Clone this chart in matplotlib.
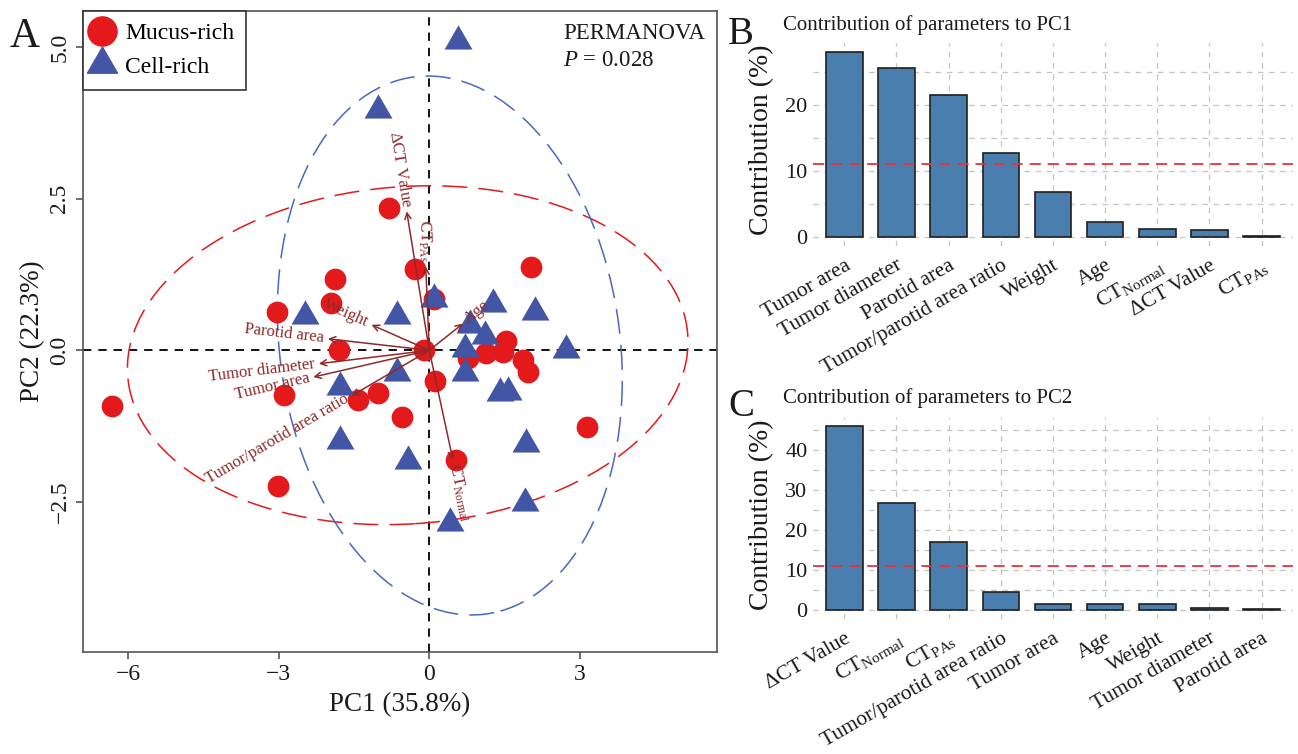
import numpy as np
import matplotlib
matplotlib.use('Agg')
import matplotlib.pyplot as plt
from matplotlib.lines import Line2D
from matplotlib.patches import Ellipse

plt.rcParams['font.family'] = ['Liberation Serif', 'DejaVu Serif']
plt.rcParams['mathtext.fontset'] = 'custom'
plt.rcParams['mathtext.rm'] = 'Liberation Serif'
plt.rcParams['mathtext.it'] = 'Liberation Serif:italic'
plt.rcParams['lines.scale_dashes'] = False

# ---------------------------------------------------------------- data
mucus_pc1 = [-6.32, -3.04, -2.90, -3.01, -1.88, -1.95, -1.80, -1.42, -1.02, -0.54,
             -0.80, -0.29, -0.11, 0.10, 0.12, 0.54, 0.77, 1.14, 1.47, 1.52,
             1.86, 1.97, 2.02, 3.15]
mucus_pc2 = [-0.91, 0.64, -0.73, -2.24, 1.18, 0.78, 0.00, -0.81, -0.70, -1.10,
             2.34, 1.34, 0.01, 0.84, -0.51, -1.80, -0.12, -0.04, -0.02, 0.15,
             -0.16, -0.35, 1.38, -1.26]
cell_pc1 = [0.57, -1.03, -2.48, -0.65, 0.09, 1.26, 2.10, 0.81, 1.11, 0.72,
            2.72, 0.72, -0.65, -1.78, 1.40, 1.56, -1.78, -0.43, 1.92, 1.90, 0.41]
cell_pc2 = [5.09, 3.96, 0.57, 0.57, 0.85, 0.77, 0.64, 0.41, 0.23, 0.03,
            0.01, -0.38, -0.38, -0.61, -0.71, -0.68, -1.50, -1.83, -1.55, -2.52, -2.85]

# 95% group ellipses: centre, semi-axes, tilt (deg)
ell_cx = [-0.43, 0.41]
ell_cy = [-0.08, 0.08]
ell_semi_x = [5.59, 3.37]
ell_semi_y = [2.78, 4.49]
ell_angle = [3, 13]

var_labels = [r'$\Delta$CT Value', r'CT$_{\mathrm{PAs}}$', 'Weight', 'Parotid area',
              'Tumor diameter', 'Tumor area', 'Tumor/parotid area ratio', 'Age',
              r'CT$_{\mathrm{Normal}}$']
var_pc1 = [-0.45, -0.07, -1.15, -2.02, -2.20, -2.31, -1.55, 0.67, 0.47]
var_pc2 = [2.29, 1.38, 0.42, 0.19, -0.22, -0.44, -0.75, 0.44, -1.80]

pc1_names = ['Tumor area', 'Tumor diameter', 'Parotid area', 'Tumor/parotid area ratio',
             'Weight', 'Age', r'CT$_{\mathrm{Normal}}$', 'ΔCT Value', r'CT$_{\mathrm{PAs}}$']
pc1_contrib = [28.1, 25.7, 21.5, 12.7, 6.9, 2.3, 1.2, 1.07, 0.08]

pc2_names = ['ΔCT Value', r'CT$_{\mathrm{Normal}}$', r'CT$_{\mathrm{PAs}}$',
             'Tumor/parotid area ratio', 'Tumor area', 'Age', 'Weight',
             'Tumor diameter', 'Parotid area']
pc2_contrib = [46.0, 26.8, 16.9, 4.4, 1.6, 1.6, 1.6, 0.38, 0.22]

# ---------------------------------------------------------------- style
RED = '#E3191C'
BLUE = '#4356A5'
BLUE_ELL = '#4A68C2'
ARROW = '#8E2A2A'
BAR = '#4A7EAE'
GRID = '#C4C4C4'
TXT = '#1a1a1a'

# R-style filled triangle (pch 17), centred on its centroid
TRI = [(0, 1.5551), (1.3468, -0.7776), (-1.3468, -0.7776), (0, 1.5551)]

fig = plt.figure(figsize=(12.98, 7.54), dpi=100)

# ================================================================ panel A
ax = fig.add_axes([0.0639, 0.1353, 0.4884, 0.850])
ax.set_xlim(-6.90, 5.73)
ax.set_ylim(-4.97, 5.59)

ax.axhline(0, color='black', lw=1.3, ls=(0, (6, 5)), zorder=1)
ax.axvline(0, color='black', lw=1.3, ls=(0, (6, 5)), zorder=1)

for cx, cy, sx, sy, ang, col in zip(ell_cx, ell_cy, ell_semi_x, ell_semi_y,
                                     ell_angle, (RED, BLUE_ELL)):
    ax.add_patch(Ellipse((cx, cy), 2 * sx, 2 * sy, angle=ang, fill=False,
                         edgecolor=col, lw=1.1, ls=(0, (18, 8)), zorder=2))

ax.scatter(mucus_pc1, mucus_pc2, s=245, color=RED, marker='o', lw=0, zorder=3)
ax.scatter(cell_pc1, cell_pc2, s=540, color=BLUE, marker=TRI, lw=0, zorder=3)

# variable arrows + labels placed just beyond each tip
for name, vx, vy in zip(var_labels, var_pc1, var_pc2):
    ax.annotate('', xy=(vx, vy), xytext=(0, 0),
                arrowprops=dict(arrowstyle='->', color=ARROW, lw=1.1,
                                mutation_scale=11, shrinkA=0, shrinkB=0),
                zorder=4)
    p0 = ax.transData.transform((0, 0))
    p1 = ax.transData.transform((vx, vy))
    ang = np.degrees(np.arctan2(p1[1] - p0[1], p1[0] - p0[0]))
    if ang > 90 or ang < -90:
        rot, ha = ang - 180 if ang > 0 else ang + 180, 'right'
    else:
        rot, ha = ang, 'left'
    gap = 3
    ax.annotate(name, xy=(vx, vy),
                xytext=(gap * np.cos(np.radians(ang)), gap * np.sin(np.radians(ang))),
                textcoords='offset points', rotation=rot, rotation_mode='anchor',
                ha=ha, va='center', fontsize=12, color=ARROW, zorder=5)

ax.set_xticks([-6, -3, 0, 3])
ax.set_yticks([-2.5, 0.0, 2.5, 5.0])
ax.set_yticklabels(['\u22122.5', '0.0', '2.5', '5.0'], rotation=90, va='center')
ax.tick_params(length=5, width=1.2, color='#555555', labelsize=17, labelcolor=TXT, pad=4)
for sp in ax.spines.values():
    sp.set_color('#555555')
    sp.set_linewidth(1.2)
ax.set_xlabel('PC1 (35.8%)', fontsize=19.5, color=TXT, labelpad=5)
ax.set_ylabel('PC2 (22.3%)', fontsize=19.5, color=TXT, labelpad=3)

handles = [Line2D([], [], ls='none', marker='o', color=RED, markersize=21, label='Mucus-rich'),
           Line2D([], [], ls='none', marker=TRI, color=BLUE, markersize=25, label='Cell-rich')]
leg = ax.legend(handles=handles, loc='upper left', bbox_to_anchor=(0, 1), borderaxespad=0,
                fancybox=False, framealpha=1, edgecolor='#333333', fontsize=17,
                handlelength=0.6, handletextpad=0.68, borderpad=0.5, labelspacing=0.5)
leg.get_frame().set_linewidth(1.2)

ax.text(0.757, 0.965, 'PERMANOVA', transform=ax.transAxes, fontsize=16.5,
        color=TXT, ha='left', va='center')
ax.text(0.757, 0.923, r'$P$ = 0.028', transform=ax.transAxes, fontsize=16.5,
        color=TXT, ha='left', va='center')


# ================================================================ panels B, C
def contrib_panel(rect, names, vals, title, title_y, ylab_y, ticks):
    bx = fig.add_axes(rect)
    pos = np.arange(len(vals))
    top = max(vals)
    step = ticks[1] - ticks[0]
    bx.set_xlim(-0.6, len(vals) - 0.4)
    bx.set_ylim(-0.05 * top, 1.05 * top)
    # major + minor dashed grid, as in the ggplot theme
    for t in np.arange(0, 1.05 * top, step / 2):
        bx.axhline(t, color=GRID, lw=0.9, ls=(0, (4, 4)), zorder=0)
    for p in pos:
        bx.axvline(p, color=GRID, lw=0.9, ls=(0, (4, 4)), zorder=0)
    bx.bar(pos, vals, width=0.7, color=BAR, edgecolor='#1f1f1f', lw=1.2, zorder=2)
    bx.axhline(100 / len(vals), color='#E8323C', lw=1.3, ls=(0, (8, 5)), zorder=3)
    for sp in bx.spines.values():
        sp.set_visible(False)
    bx.set_yticks(ticks)
    bx.set_yticklabels([str(t) for t in ticks])
    bx.set_xticks(pos)
    bx.set_xticklabels(names, rotation=30, ha='right', va='top', rotation_mode='anchor')
    bx.tick_params(axis='y', length=0, labelsize=16, labelcolor=TXT, pad=4)
    bx.tick_params(axis='x', length=0, labelsize=15.5, labelcolor=TXT, pad=7)
    fig.text(783 / 1298, title_y, title, fontsize=15, color=TXT, ha='left', va='center')
    fig.text(762 / 1298, ylab_y, 'Contribution (%)', fontsize=20, color=TXT,
             rotation=90, ha='center', va='center')
    return bx


contrib_panel([0.6263, 0.6735, 0.3698, 0.2698], pc1_names, pc1_contrib,
              'Contribution of parameters to PC1', 1 - 25 / 754, 1 - 140 / 754, [0, 10, 20])
contrib_panel([0.6263, 0.1788, 0.3698, 0.2684], pc2_names, pc2_contrib,
              'Contribution of parameters to PC2', 1 - 398 / 754, 1 - 515 / 754,
              [0, 10, 20, 30, 40])

fig.text(25 / 1298, 1 - 37 / 754, 'A', fontsize=30, color=TXT, ha='center', va='center')
fig.text(741 / 1298, 1 - 35 / 754, 'B', fontsize=28, color=TXT, ha='center', va='center')
fig.text(741 / 1298, 1 - 406 / 754, 'C', fontsize=28, color=TXT, ha='center', va='center')

fig.savefig('out.png', dpi=100, facecolor='white')
